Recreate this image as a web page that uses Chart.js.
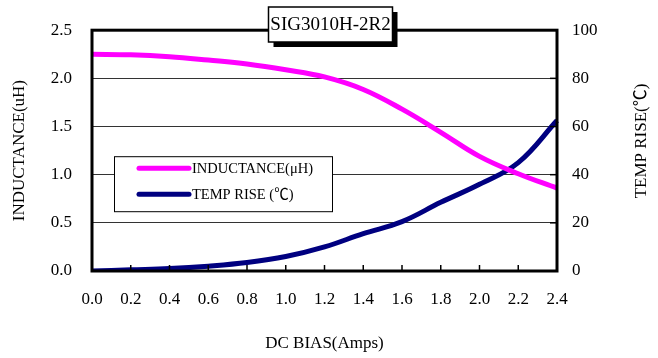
<!DOCTYPE html>
<html>
<head>
<meta charset="utf-8">
<script src="https://cdn.jsdelivr.net/npm/chart.js@4.4.1/dist/chart.umd.min.js"></script>
<style>
   html, body { margin: 0; padding: 0; background: #fff; }
   #wrap { width: 658px; height: 358px; }
</style>
</head>
<body>
<div id="wrap"><canvas id="chart"></canvas></div>
<script>
'use strict';

const biasLabels = ['0.0', '0.2', '0.4', '0.6', '0.8', '1.0', '1.2', '1.4', '1.6', '1.8', '2.0', '2.2', '2.4'];
const inductance = [2.25, 2.245, 2.225, 2.19, 2.15, 2.09, 2.015, 1.885, 1.68, 1.44, 1.19, 1.01, 0.86];
const tempRise = [0, 0.5, 1, 2, 3.5, 6, 10, 15.5, 20.5, 28.5, 36, 45, 62.5];

const chartTitle = 'SIG3010H-2R2';
const xTitle = 'DC BIAS(Amps)';
const yTitle = 'INDUCTANCE(uH)';
const y1Title = 'TEMP RISE(℃)';
const seriesNames = ['INDUCTANCE(μH)', 'TEMP RISE (℃)'];
const seriesColors = ['#ff00ff', '#000080'];

const FONT = "'Liberation Serif', 'Times New Roman', 'Noto Sans CJK SC', serif";

// frame, inner ticks, legend box, title box, right axis title
const decorPlugin = {
   id: 'decor',
   beforeDatasetsDraw(chart) {
      const ctx = chart.ctx;
      const a = chart.chartArea;
      const lx = a.left + 22;
      const ly = a.top + 126;
      ctx.save();
      ctx.fillStyle = '#fff';
      ctx.fillRect(lx, ly, 218, 55);
      ctx.strokeStyle = '#000';
      ctx.lineWidth = 1;
      ctx.strokeRect(lx + 0.5, ly + 0.5, 218, 55);
      ctx.lineCap = 'round';
      ctx.lineWidth = 5;
      ctx.font = '14.5px ' + FONT;
      ctx.textBaseline = 'middle';
      ctx.fillStyle = '#000';
      chart.data.datasets.forEach(function (ds, i) {
         const y = ly + 12 + i * 26;
         ctx.strokeStyle = ds.borderColor;
         ctx.beginPath();
         ctx.moveTo(lx + 25, y);
         ctx.lineTo(lx + 75, y);
         ctx.stroke();
         ctx.fillText(ds.label, lx + 78, y + 1);
      });
      ctx.restore();
   },
   afterDatasetsDraw(chart) {
      const ctx = chart.ctx;
      const a = chart.chartArea;
      ctx.save();
      ctx.strokeStyle = '#000';
      ctx.lineWidth = 1.5;
      const xs = chart.scales.x;
      xs.ticks.forEach(function (t, i) {
         const px = xs.getPixelForTick(i);
         ctx.beginPath();
         ctx.moveTo(px, a.bottom);
         ctx.lineTo(px, a.bottom - 6);
         ctx.stroke();
      });
      const ys = chart.scales.y1;
      ys.ticks.forEach(function (t, i) {
         const py = ys.getPixelForTick(i);
         ctx.beginPath();
         ctx.moveTo(a.right, py);
         ctx.lineTo(a.right - 7, py);
         ctx.stroke();
      });
      ctx.lineWidth = 3;
      ctx.strokeRect(a.left, a.top, a.right - a.left, a.bottom - a.top);
      ctx.restore();
   },
   afterDraw(chart) {
      const ctx = chart.ctx;
      const a = chart.chartArea;
      const cx = (a.left + a.right) / 2 + 6;
      const bx = cx - 62;
      const by = 7;
      ctx.save();
      ctx.fillStyle = '#000';
      ctx.fillRect(bx + 5, by + 5, 124, 35);
      ctx.fillStyle = '#fff';
      ctx.fillRect(bx, by, 124, 35);
      ctx.strokeStyle = '#000';
      ctx.lineWidth = 1.5;
      ctx.strokeRect(bx, by, 124, 35);
      ctx.fillStyle = '#000';
      ctx.font = '19px ' + FONT;
      ctx.textAlign = 'center';
      ctx.textBaseline = 'middle';
      ctx.fillText(chartTitle, cx, by + 18);

      ctx.translate(642, 141);
      ctx.rotate(-Math.PI / 2);
      ctx.font = '17px ' + FONT;
      ctx.fillText(y1Title, 0, 0);
      ctx.restore();
   }
};

function getConfig() {
   return {
      type: 'line',
      data: {
         labels: biasLabels,
         datasets: [{
            label: seriesNames[0],
            data: inductance,
            borderColor: seriesColors[0],
            backgroundColor: seriesColors[0],
            borderWidth: 5,
            tension: 0.4,
            pointRadius: 0,
            yAxisID: 'y',
            fill: false
         }, {
            label: seriesNames[1],
            data: tempRise,
            borderColor: seriesColors[1],
            backgroundColor: seriesColors[1],
            borderWidth: 5,
            tension: 0.4,
            pointRadius: 0,
            yAxisID: 'y1',
            fill: false
         }]
      },
      options: {
         responsive: true,
         maintainAspectRatio: false,
         animation: false,
         layout: {
            padding: { top: 30, left: 0, right: 0, bottom: 0 }
         },
         scales: {
            x: {
               type: 'category',
               offset: false,
               grid: { display: false, drawTicks: false },
               border: { display: false },
               ticks: {
                  color: '#000',
                  padding: 18,
                  maxRotation: 0,
                  autoSkip: false,
                  font: { family: FONT, size: 17 }
               },
               title: {
                  display: true,
                  text: xTitle,
                  color: '#000',
                  padding: { top: 0, bottom: 4 },
                  font: { family: FONT, size: 17 }
               },
               afterFit: function (s) { s.height = 87; }
            },
            y: {
               position: 'left',
               min: 0,
               max: 2.5,
               grid: { color: '#333', lineWidth: 1, drawTicks: false },
               border: { display: false },
               ticks: {
                  stepSize: 0.5,
                  color: '#000',
                  padding: 20,
                  font: { family: FONT, size: 17 },
                  callback: function (v) { return v.toFixed(1); }
               },
               title: {
                  display: true,
                  text: yTitle,
                  color: '#000',
                  padding: { top: 9, bottom: 0 },
                  font: { family: FONT, size: 17 }
               },
               afterFit: function (s) { s.width = 92; }
            },
            y1: {
               position: 'right',
               min: 0,
               max: 100,
               grid: { display: false, drawTicks: false },
               border: { display: false },
               ticks: {
                  stepSize: 20,
                  color: '#000',
                  padding: 15,
                  font: { family: FONT, size: 17 }
               },
               afterFit: function (s) { s.width = 101; }
            }
         },
         plugins: {
            legend: { display: false },
            tooltip: { enabled: false }
         }
      },
      plugins: [decorPlugin]
   };
}

new Chart(document.getElementById('chart'), getConfig());
</script>
</body>
</html>
